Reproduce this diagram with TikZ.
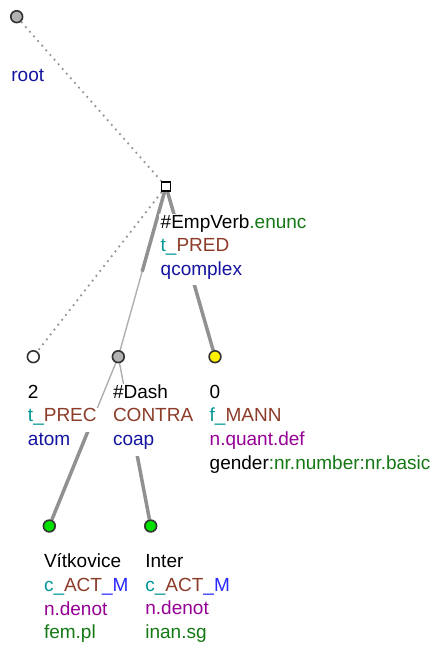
\documentclass[tikz,border=0pt]{standalone}
\usepackage{fontspec}
\setmainfont{Liberation Sans}
\usepackage{xcolor}
\usetikzlibrary{positioning,calc,backgrounds}

\definecolor{tealfn}{RGB}{0,150,150}
\definecolor{brownfn}{RGB}{140,60,40}
\definecolor{bluemem}{RGB}{40,40,255}
\definecolor{navynt}{RGB}{20,20,160}
\definecolor{purplegr}{RGB}{150,0,150}
\definecolor{greenattr}{RGB}{20,120,20}
\definecolor{edgegray}{RGB}{145,145,145}
\definecolor{thingray}{RGB}{175,175,175}
\definecolor{dotgray}{RGB}{150,150,150}
\definecolor{nodegray}{RGB}{178,178,178}
\definecolor{leafgreen}{RGB}{0,225,0}

% one label line on a white strip, so the edges behind it are hidden
\newcommand{\lbox}[1]{{\setlength{\fboxsep}{0pt}\colorbox{white}{\hspace{1.5pt}\rule[-9.9pt]{0pt}{23.7pt}#1\hspace{1.5pt}}}}

\begin{document}
\begin{tikzpicture}[x=1pt,y=-1pt,font=\fontsize{19}{23.7}\selectfont,
  tnode/.style={circle,draw=black!80,line width=1.6pt,minimum size=11.8pt,inner sep=0pt},
  sqnode/.style={rectangle,draw=black,line width=1.5pt,minimum size=9.4pt,inner sep=0pt,fill=white},
  lbl/.style={inner sep=0pt,align=left},
  dotedge/.style={draw=dotgray,line width=1.8pt,dash pattern=on 1.8pt off 4.4pt},
  thinedge/.style={draw=thingray,line width=1.4pt},
  thickedge/.style={draw=edgegray,line width=3.5pt}]
\useasboundingbox (0,0) rectangle (438,647);

\node (root) [tnode,fill=nodegray] at (16.7,16.7) {};
\node (emp) [sqnode] at (166,186.5) {};
\node (prec) [tnode,fill=white] at (33.3,356.7) {};
\node (dash) [tnode,fill=nodegray] at (118.3,356.7) {};
\node (mann) [tnode,fill=yellow] at (215,356.7) {};
\node (vit) [tnode,fill=leafgreen] at (49.3,526) {};
\node (inter) [tnode,fill=leafgreen] at (150.7,526) {};

\coordinate (mdash) at ($(emp)!0.5!(dash)$);
\coordinate (mvit) at ($(dash)!0.44!(vit)$);
\coordinate (minter) at ($(dash)!0.5!(inter)$);

\begin{pgfonlayer}{background}
\draw[dotedge] (root) -- (emp);
\draw[dotedge] (emp) -- (prec);
\draw[thinedge] (emp) -- (dash);
\draw[thickedge] (emp) -- (mdash);
\draw[thickedge] (emp) -- (mann);
\draw[thinedge] (dash) -- (vit);
\draw[thinedge] (dash) -- (inter);
\draw[thickedge] (mvit) -- (vit);
\draw[thickedge] (minter) -- (inter);
\end{pgfonlayer}

\node (lroot) [lbl,below right=51.2pt and -7pt of root.center]
  {\lbox{\textcolor{navynt}{root}}};
\node (lemp) [lbl,below right=27.5pt and -7pt of emp.center]
  {\lbox{\#EmpVerb\textcolor{greenattr}{.enunc}}\\
   \lbox{\textcolor{tealfn}{t\_}\textcolor{brownfn}{PRED}}\\
   \lbox{\textcolor{navynt}{qcomplex}}};
\node (lprec) [lbl,below right=27.5pt and -7pt of prec.center]
  {\lbox{2}\\
   \lbox{\textcolor{tealfn}{t\_}\textcolor{brownfn}{PREC}}\\
   \lbox{\textcolor{navynt}{atom}}};
\node (ldash) [lbl,below right=27.5pt and -7pt of dash.center]
  {\lbox{\#Dash}\\
   \lbox{\textcolor{brownfn}{CONTRA}}\\
   \lbox{\textcolor{navynt}{coap}}};
\node (lmann) [lbl,below right=27.5pt and -7pt of mann.center]
  {\lbox{0}\\
   \lbox{\textcolor{tealfn}{f\_}\textcolor{brownfn}{MANN}}\\
   \lbox{\textcolor{purplegr}{n.quant.def}}\\
   \lbox{gender\textcolor{greenattr}{:nr.number:nr.basic}}};
\node (lvit) [lbl,below right=27.5pt and -7pt of vit.center]
  {\lbox{Vítkovice}\\
   \lbox{\textcolor{tealfn}{c\_}\textcolor{brownfn}{ACT}\textcolor{bluemem}{\_M}}\\
   \lbox{\textcolor{purplegr}{n.denot}}\\
   \lbox{\textcolor{greenattr}{fem.pl}}};
\node (linter) [lbl,below right=27.5pt and -7pt of inter.center]
  {\lbox{Inter}\\
   \lbox{\textcolor{tealfn}{c\_}\textcolor{brownfn}{ACT}\textcolor{bluemem}{\_M}}\\
   \lbox{\textcolor{purplegr}{n.denot}}\\
   \lbox{\textcolor{greenattr}{inan.sg}}};
\end{tikzpicture}
\end{document}
